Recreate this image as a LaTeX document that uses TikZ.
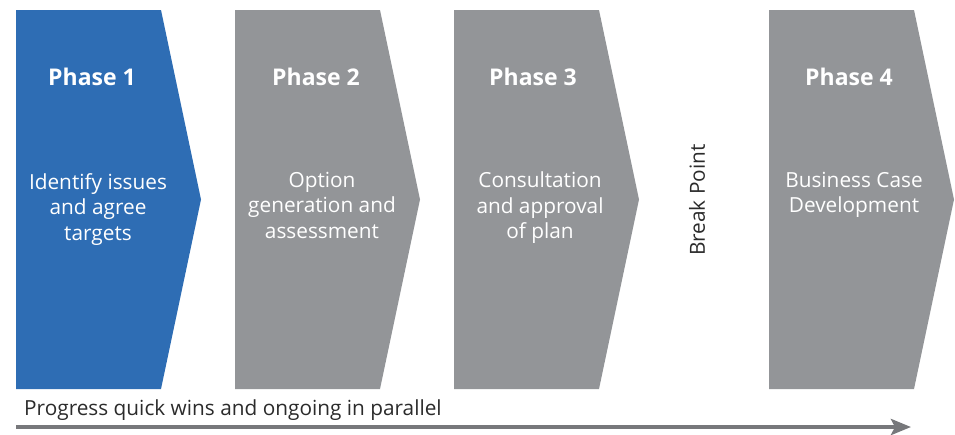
\documentclass[tikz,border=0pt]{standalone}
\usepackage{fontspec}
\setmainfont{Open Sans}
\usetikzlibrary{arrows.meta}

\definecolor{phaseblue}{HTML}{2E6DB4}
\definecolor{phasegrey}{HTML}{939598}
\definecolor{progline}{HTML}{77787B}
\definecolor{progtext}{HTML}{2B2B2B}

\newcommand{\phw}{145}
\newcommand{\phtip}{40}
\newcommand{\phaseshape}[2]{\fill[#1] (#2,10) -- ++(\phw,0) -- ++(\phtip,189.5) -- ++(-\phtip,189.5) -- ++(-\phw,0) -- cycle;}
\newcommand{\titlen}{\node[anchor=base, text=white, font=\fontsize{23}{27}\selectfont\bfseries]}
\newcommand{\bodyn}{\node[anchor=north, text=white, align=center, inner sep=0pt, font=\fontsize{20.8}{25.5}\selectfont]}

\begin{document}
\begin{tikzpicture}[x=1pt, y=-1pt]
            \useasboundingbox (0,0) rectangle (955,434);

            \phaseshape{phaseblue}{16}
            \phaseshape{phasegrey}{235}
            \phaseshape{phasegrey}{454}
            \phaseshape{phasegrey}{769}

            \titlen (t1) at (16+76,85) {Phase 1};
            \titlen (t2) at (235+81,85) {Phase 2};
            \titlen (t3) at (454+79,85) {Phase 3};
            \titlen (t4) at (769+80,85) {Phase 4};

            \bodyn (b1) at (16+82,173) {Identify issues\\and agree\\targets};
            \bodyn (b2) at (235+87,172) {Option\\generation and\\assessment};
            \bodyn (b3) at (454+86,171.5) {Consultation\\and approval\\of plan};
            \bodyn (b4) at (769+85,172) {Business Case\\Development};

            \node[rotate=90, text=progtext, font=\fontsize{20.8}{24}\selectfont] (brk) at (697,200) {Break Point};

            \node[anchor=base west, inner sep=0pt, text=progtext, font=\fontsize{20.8}{24}\selectfont] (prog) at (24,415) {Progress quick wins and ongoing in parallel};

            \coordinate (pstart) at (16,427);
            \coordinate (pend) at (911,427);
            \draw[progline, line width=4.5pt, -{Stealth[length=20pt, width=16pt, inset=4pt]}]
                (pstart) -- (pend);

        \end{tikzpicture}
\end{document}
